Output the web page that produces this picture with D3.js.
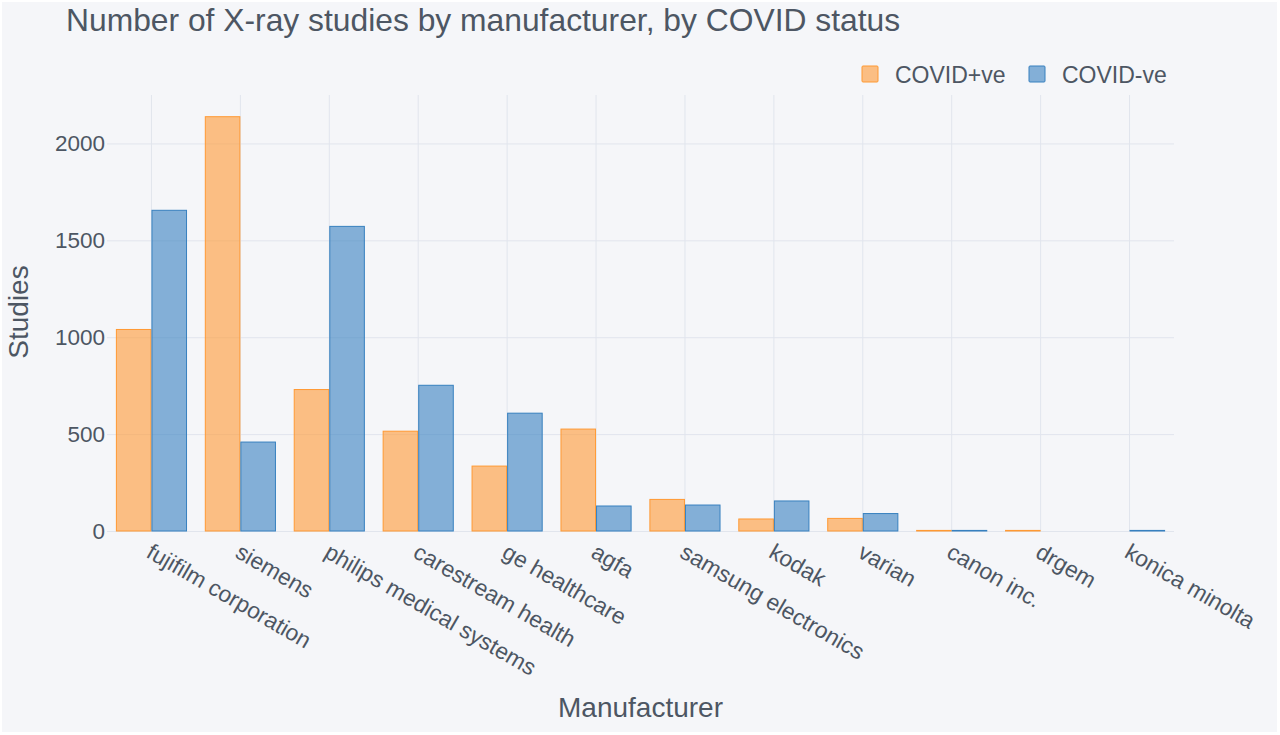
<!DOCTYPE html>
<html>
<head>
<meta charset="utf-8">
<script src="https://cdn.jsdelivr.net/npm/d3@7"></script>
<style>
  body { margin: 0; background: #ffffff; }
  text { font-family: "Liberation Sans", Arial, sans-serif; fill: #4D5663; }
</style>
</head>
<body>
<div id="chart"></div>
<script>
// data
const manufacturers = ["fujifilm corporation", "siemens", "philips medical systems", "carestream health",
  "ge healthcare", "agfa", "samsung electronics", "kodak", "varian", "canon inc.", "drgem", "konica minolta"];
const covidPos = [1040, 2138, 730, 515, 335, 526, 163, 62, 65, 3, 3, 0];
const covidNeg = [1655, 459, 1572, 752, 608, 129, 134, 155, 90, 3, 0, 3];
const seriesNames = ["COVID+ve", "COVID-ve"];
const yTicks = [0, 500, 1000, 1500, 2000];

const W = 1280, H = 735;
const margin = {top: 95, right: 106, bottom: 204, left: 107};
const width = W - margin.left - margin.right,
      height = H - margin.top - margin.bottom;

const fills = ["rgba(255,153,51,0.6)", "rgba(55,128,191,0.6)"];
const strokes = ["rgba(255,153,51,1)", "rgba(55,128,191,1)"];

var svg = d3.select("#chart").append("svg")
  .attr("width", W).attr("height", H);

svg.append("rect")
  .attr("x", 2).attr("y", 2).attr("width", W - 5).attr("height", H - 5)
  .attr("fill", "#F5F6F9");

var g = svg.append("g")
  .attr("transform", "translate(" + margin.left + "," + margin.top + ")");

var x = d3.scaleBand().domain(manufacturers).range([0, width]).padding(0);
// each group takes 80% of its band, centred
var xInner = d3.scaleBand().domain(seriesNames)
  .range([x.bandwidth() * 0.1, x.bandwidth() * 0.9]).padding(0);

var y = d3.scaleLinear().domain([0, 2250]).range([height, 0]);

// grid lines
g.append("g").selectAll("line.v").data(manufacturers).enter().append("line")
  .attr("x1", d => x(d) + x.bandwidth() / 2).attr("x2", d => x(d) + x.bandwidth() / 2)
  .attr("y1", 0).attr("y2", height)
  .attr("stroke", "#E1E5ED").attr("stroke-width", 1);

var yAxis = g.append("g")
  .call(d3.axisLeft(y).tickValues(yTicks).tickSize(-width).tickPadding(2).tickFormat(d3.format("d")));
yAxis.select(".domain").remove();
yAxis.selectAll(".tick line").attr("stroke", "#E1E5ED");
yAxis.selectAll(".tick text").style("font-size", "22.5px").attr("fill", "#4D5663");

// bars
var rows = manufacturers.map((m, i) => ({m: m, vals: [covidPos[i], covidNeg[i]]}));
var groups = g.selectAll("g.grp").data(rows).enter().append("g")
  .attr("transform", d => "translate(" + x(d.m) + ",0)");
groups.selectAll("rect")
  .data(d => d.vals.map((v, k) => ({s: seriesNames[k], v: v, k: k})))
  .enter().append("rect")
  .attr("x", d => xInner(d.s) + 0.5)
  .attr("width", xInner.bandwidth() - 1)
  .attr("y", d => y(d.v))
  .attr("height", d => height - y(d.v))
  .attr("fill", d => fills[d.k])
  .attr("stroke", d => strokes[d.k])
  .attr("stroke-width", 1);

// x axis labels
var xAxis = g.append("g").attr("transform", "translate(0," + height + ")")
  .call(d3.axisBottom(x).tickSize(0).tickPadding(0));
xAxis.select(".domain").remove();
xAxis.selectAll(".tick text")
  .style("font-size", "22.8px").attr("fill", "#4D5663")
  .attr("text-anchor", "start")
  .attr("dy", null).attr("y", 0)
  .attr("transform", "translate(2,11) rotate(30)")
  .attr("dominant-baseline", "hanging");

// titles
svg.append("text").attr("x", 66).attr("y", 31)
  .style("font-size", "31.8px").text("Number of X-ray studies by manufacturer, by COVID status");

svg.append("text").attr("x", margin.left + width / 2).attr("y", 717)
  .attr("text-anchor", "middle").style("font-size", "28px").text("Manufacturer");

svg.append("text").attr("transform", "translate(28,312) rotate(-90)")
  .attr("text-anchor", "middle").style("font-size", "28px").text("Studies");

// legend
var legX = [862, 1029];
var leg = svg.selectAll("g.leg").data(seriesNames).enter().append("g")
  .attr("transform", (d, i) => "translate(" + legX[i] + ",66)");
leg.append("rect").attr("width", 16).attr("height", 16).attr("rx", 1)
  .attr("fill", (d, i) => fills[i]).attr("stroke", (d, i) => strokes[i]);
leg.append("text").attr("x", 33).attr("y", 16.5).style("font-size", "23px").text(d => d);
</script>
</body>
</html>
